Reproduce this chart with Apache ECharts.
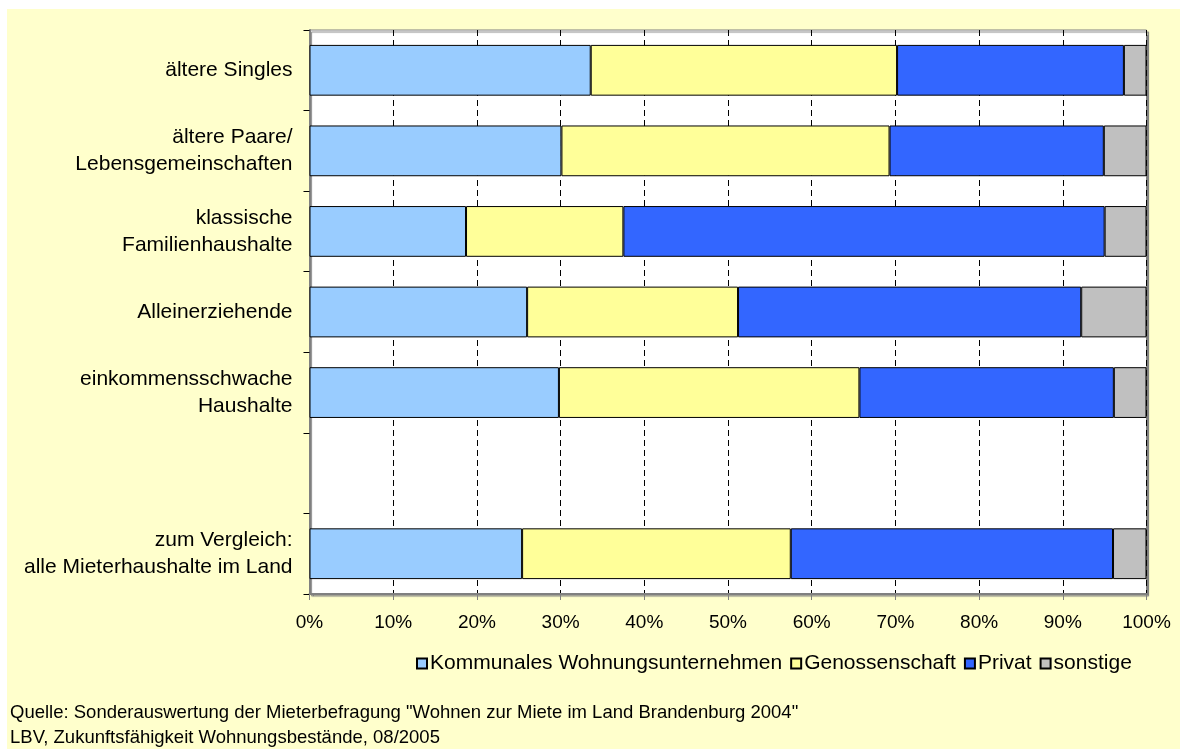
<!DOCTYPE html>
<html>
<head>
<meta charset="utf-8">
<script src="https://cdn.jsdelivr.net/npm/echarts@6/dist/echarts.min.js"></script>
<style>
  html, body { margin: 0; padding: 0; background: #fff; }
  #chart { position: absolute; left: 7px; top: 9px; width: 1173px; height: 740px; background: #FFFFCC; }
</style>
</head>
<body>
<div id="chart"></div>
<script>
// Kategorien (von oben nach unten), leere Zeile als Abstand
const categories = [
  "ältere Singles",
  "ältere Paare/\nLebensgemeinschaften",
  "klassische\nFamilienhaushalte",
  "Alleinerziehende",
  "einkommensschwache\nHaushalte",
  "",
  "zum Vergleich:\nalle Mieterhaushalte im Land"
];
// Anteile in %
const kommunal = [33.6, 30.1, 18.7, 26.0, 29.8, null, 25.4];
const genossenschaft = [36.6, 39.2, 18.8, 25.2, 35.9, null, 32.1];
const privat = [27.1, 25.6, 57.5, 41.0, 30.4, null, 38.5];
const sonstige = [2.7, 5.1, 5.0, 7.8, 3.9, null, 4.0];
const seriesNames = ["Kommunales Wohnungsunternehmen", "Genossenschaft", "Privat", "sonstige"];
const colors = ["#99CCFF", "#FFFF99", "#3366FF", "#C0C0C0"];

const font = "Liberation Sans, Arial, sans-serif";
const myChart = echarts.init(document.getElementById("chart"));

const makeSeries = (name, data, color) => ({
  name: name,
  type: "bar",
  stack: "total",
  barWidth: "63%",
  data: data,
  itemStyle: { color: color, borderColor: "#000", borderWidth: 1 }
});

const option = {
  animation: false,
  textStyle: { fontFamily: font },
  grid: {
    left: 302.5, right: 33.5, top: 21, bottom: 155,
    show: true,
    backgroundColor: "#fff",
    borderColor: "#808080",
    borderWidth: 1,
    shadowColor: "#808080",
    shadowOffsetX: 2,
    shadowOffsetY: 2,
    shadowBlur: 1
  },
  legend: {
    left: 404, top: 639,
    itemWidth: 10, itemHeight: 10,
    itemGap: 8,
    icon: "rect",
    textStyle: { fontSize: 21, color: "#000", fontFamily: font, padding: [0, 0, 0, -2] },
    data: seriesNames
  },
  title: {
    text: 'Quelle: Sonderauswertung der Mieterbefragung "Wohnen zur Miete im Land Brandenburg 2004"\nLBV, Zukunftsfähigkeit Wohnungsbestände, 08/2005',
    left: 3, top: 691,
    padding: 0,
    textStyle: { fontSize: 18.5, fontWeight: "normal", color: "#000", fontFamily: font, lineHeight: 25 }
  },
  xAxis: {
    type: "value",
    min: 0, max: 100, interval: 10,
    axisLine: { show: true, lineStyle: { color: "#808080", width: 2 } },
    axisTick: { show: true, length: 6, lineStyle: { color: "#808080" } },
    axisLabel: { fontSize: 19, color: "#000", margin: 19, formatter: "{value}%" },
    splitLine: { show: true, lineStyle: { color: "#000", type: [6, 4], width: 1 } }
  },
  yAxis: {
    type: "category",
    inverse: true,
    data: categories,
    axisLine: { show: true, lineStyle: { color: "#808080", width: 2 } },
    axisTick: { show: true, length: 6, lineStyle: { color: "#000" } },
    axisLabel: { fontSize: 21, color: "#000", margin: 17, lineHeight: 27, align: "right" },
    splitLine: { show: false }
  },
  series: [
    makeSeries(seriesNames[0], kommunal, colors[0]),
    makeSeries(seriesNames[1], genossenschaft, colors[1]),
    makeSeries(seriesNames[2], privat, colors[2]),
    makeSeries(seriesNames[3], sonstige, colors[3])
  ]
};
myChart.setOption(option);
</script>
</body>
</html>
